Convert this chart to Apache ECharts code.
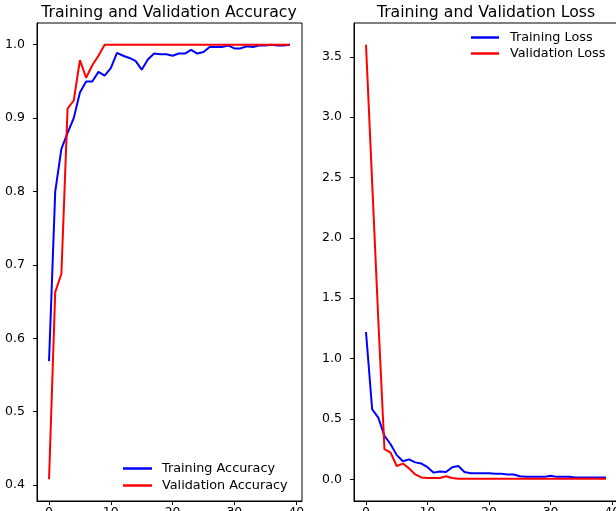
<!DOCTYPE html>
<html>
<head>
<meta charset="utf-8">
<script src="https://cdn.jsdelivr.net/npm/echarts@6/dist/echarts.min.js"></script>
<style>
html,body{margin:0;padding:0;overflow:hidden;background:#fff;width:616px;height:511px;}
#chart{width:620px;height:511px;}
</style>
</head>
<body>
<div id="chart"></div>
<script>
const epochs = [0,1,2,3,4,5,6,7,8,9,10,11,12,13,14,15,16,17,18,19,20,21,22,23,24,25,26,27,28,29,30,31,32,33,34,35,36,37,38,39];
const trainAcc = [0.569,0.800,0.858,0.880,0.900,0.935,0.950,0.950,0.963,0.958,0.968,0.989,0.985,0.982,0.978,0.966,0.980,0.988,0.987,0.987,0.985,0.988,0.988,0.993,0.988,0.990,0.997,0.997,0.997,0.999,0.995,0.995,0.998,0.997,0.999,0.999,1.000,0.999,0.999,1.000];
const valAcc = [0.408,0.663,0.688,0.913,0.924,0.979,0.955,0.972,0.985,1.0,1.0,1.0,1.0,1.0,1.0,1.0,1.0,1.0,1.0,1.0,1.0,1.0,1.0,1.0,1.0,1.0,1.0,1.0,1.0,1.0,1.0,1.0,1.0,1.0,1.0,1.0,1.0,1.0,1.0,1.0];
const trainLoss = [1.22,0.58,0.51,0.36,0.29,0.20,0.15,0.165,0.14,0.13,0.10,0.055,0.065,0.06,0.10,0.11,0.06,0.05,0.05,0.05,0.05,0.045,0.045,0.04,0.04,0.025,0.02,0.02,0.02,0.02,0.03,0.02,0.02,0.02,0.015,0.015,0.015,0.015,0.015,0.015];
const valLoss = [3.60,2.46,1.32,0.25,0.22,0.11,0.13,0.09,0.04,0.015,0.01,0.01,0.01,0.025,0.01,0.005,0.004,0.004,0.004,0.004,0.004,0.004,0.004,0.004,0.004,0.004,0.004,0.004,0.004,0.004,0.004,0.004,0.004,0.004,0.004,0.004,0.004,0.004,0.004,0.004];
const xTicks = [0,10,20,30,40];
const accTicks = [0.4,0.5,0.6,0.7,0.8,0.9,1.0];
const lossTicks = [0.0,0.5,1.0,1.5,2.0,2.5,3.0,3.5];

const FONT = 'DejaVu Sans';
const pair = (ys) => epochs.map((x,i)=>[x, ys[i]]);

function xAxis(idx){
  return {
    type:'value', gridIndex:idx, min:-1.95, max:40.95,
    axisLine:{show:true,onZero:false,lineStyle:{color:'#000',width:1}},
    axisTick:{show:true,length:4,inside:false,customValues:xTicks,lineStyle:{color:'#000'}},
    axisLabel:{show:true,margin:5,customValues:xTicks,color:'#000',fontSize:12.5,fontFamily:FONT},
    splitLine:{show:false}
  };
}
function yAxis(idx,min,max,ticks){
  return {
    type:'value', gridIndex:idx, min:min, max:max,
    axisLine:{show:true,onZero:false,lineStyle:{color:'#000',width:1}},
    axisTick:{show:true,length:4,inside:false,customValues:ticks,lineStyle:{color:'#000'}},
    axisLabel:{show:true,margin:12,customValues:ticks,color:'#000',fontSize:12.5,fontFamily:FONT,
      formatter:(v)=>v.toFixed(1)},
    splitLine:{show:false}
  };
}
function lineSeries(name,data,color,xi,yi){
  return {type:'line',name:name,data:data,xAxisIndex:xi,yAxisIndex:yi,symbol:'none',
    lineStyle:{color:color,width:2},itemStyle:{color:color},animation:false};
}

const chart = echarts.init(document.getElementById('chart'),null,{renderer:'canvas'});
chart.setOption({
  animation:false,
  backgroundColor:'#fff',
  title:[
    {text:'Training and Validation Accuracy',left:169,top:5,textAlign:'center',padding:0,
      textStyle:{fontFamily:FONT,fontSize:15.7,fontWeight:'normal',color:'#000'}},
    {text:'Training and Validation Loss',left:486,top:5,textAlign:'center',padding:0,
      textStyle:{fontFamily:FONT,fontSize:15.7,fontWeight:'normal',color:'#000'}}
  ],
  grid:[
    {left:37,top:23,width:265,bottom:10,show:true,borderColor:'#000',borderWidth:1,backgroundColor:'transparent',outerBoundsMode:'none',containLabel:false},
    {left:354,top:23,width:264,bottom:10,show:true,borderColor:'#000',borderWidth:1,backgroundColor:'transparent',outerBoundsMode:'none',containLabel:false}
  ],
  xAxis:[xAxis(0),xAxis(1)],
  yAxis:[yAxis(0,0.3784,1.0296,accTicks),yAxis(1,-0.18,3.78,lossTicks)],
  legend:[
    {data:['Training Accuracy','Validation Accuracy'],orient:'vertical',left:123,top:461,
      icon:'rect',itemWidth:29,itemHeight:2.5,itemGap:2,padding:0,
      textStyle:{fontFamily:FONT,fontSize:12.8,color:'#000',lineHeight:15,padding:[0,0,0,5]}},
    {data:['Training Loss','Validation Loss'],orient:'vertical',left:471,top:30,
      icon:'rect',itemWidth:28,itemHeight:2.5,itemGap:1,padding:0,
      textStyle:{fontFamily:FONT,fontSize:12.8,color:'#000',lineHeight:15,padding:[0,0,0,6]}}
  ],
  series:[
    lineSeries('Training Accuracy',pair(trainAcc),'#0000ff',0,0),
    lineSeries('Validation Accuracy',pair(valAcc),'#ff0000',0,0),
    lineSeries('Training Loss',pair(trainLoss),'#0000ff',1,1),
    lineSeries('Validation Loss',pair(valLoss),'#ff0000',1,1)
  ]
});
</script>
</body>
</html>
